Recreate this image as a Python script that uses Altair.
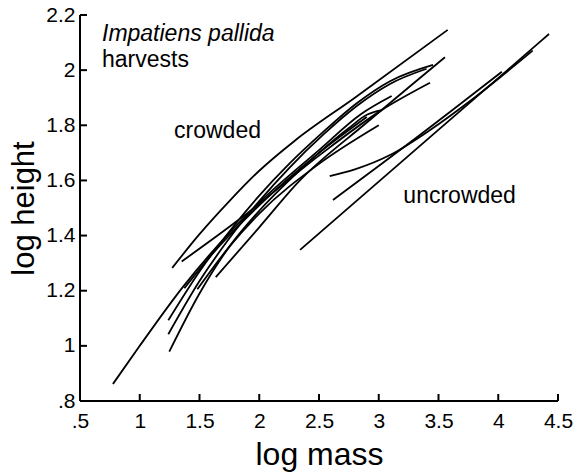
import altair as alt
import pandas as pd

# ---- data ----
x_ticks = [0.5, 1.0, 1.5, 2.0, 2.5, 3.0, 3.5, 4.0, 4.5]
y_ticks = [0.8, 1.0, 1.2, 1.4, 1.6, 1.8, 2.0, 2.2]

# crowded harvests
c1_x = [1.272, 1.5, 1.75, 2.0, 2.3, 2.8, 3.577]
c1_y = [1.283, 1.405, 1.525, 1.635, 1.745, 1.90, 2.146]
c2_x = [1.351, 1.867, 2.5, 3.024, 3.429]
c2_y = [1.306, 1.47, 1.69, 1.855, 1.954]
c3_x = [1.239, 1.5, 1.75, 2.0, 2.25, 2.533, 2.816, 3.094, 3.454]
c3_y = [1.093, 1.27, 1.415, 1.545, 1.66, 1.775, 1.88, 1.96, 2.019]
c4_x = [1.239, 1.5, 1.75, 2.0, 2.25, 2.533, 2.816, 3.094, 3.40]
c4_y = [1.042, 1.235, 1.39, 1.525, 1.645, 1.765, 1.87, 1.95, 2.005]
c5_x = [1.247, 1.5, 1.75, 2.0, 2.25, 2.5, 2.75, 2.9, 3.025]
c5_y = [0.979, 1.19, 1.36, 1.49, 1.6, 1.70, 1.79, 1.838, 1.855]
c6_x = [0.776, 1.0, 1.36, 1.75, 2.0, 2.5, 2.85, 3.108]
c6_y = [0.862, 1.0, 1.213, 1.41, 1.52, 1.71, 1.84, 1.906]
c7_x = [1.373, 1.6, 2.0, 2.5, 2.9]
c7_y = [1.209, 1.33, 1.51, 1.70, 1.83]
c8_x = [1.482, 1.75, 2.0, 2.5, 3.0]
c8_y = [1.205, 1.36, 1.48, 1.66, 1.80]
c9_x = [1.636, 2.0, 2.34, 2.9, 3.554]
c9_y = [1.249, 1.43, 1.60, 1.81, 2.047]

# uncrowded harvests
u1_x = [2.341, 3.4, 4.425]
u1_y = [1.348, 1.746, 2.131]
u2_x = [2.59, 2.8, 3.094, 3.43, 3.8, 4.288]
u2_y = [1.616, 1.64, 1.692, 1.783, 1.90, 2.071]
u3_x = [2.617, 3.3, 4.03]
u3_y = [1.529, 1.75, 1.994]

ann_text = ["harvests", "crowded", "uncrowded"]
ann_x = [0.684, 1.287, 3.206]
ann_y = [2.0125, 1.753, 1.517]
title_text = ["Impatiens pallida"]
title_x = [0.684]
title_y = [2.107]

# ---- build tables ----
curves = {
    "c1": (c1_x, c1_y), "c2": (c2_x, c2_y), "c3": (c3_x, c3_y),
    "c4": (c4_x, c4_y), "c5": (c5_x, c5_y), "c6": (c6_x, c6_y),
    "c7": (c7_x, c7_y), "c8": (c8_x, c8_y), "c9": (c9_x, c9_y),
    "u1": (u1_x, u1_y), "u2": (u2_x, u2_y), "u3": (u3_x, u3_y),
}
rows = []
for name, (xs, ys) in curves.items():
    for i, (xv, yv) in enumerate(zip(xs, ys)):
        rows.append({"curve": name, "order": i, "x": xv, "y": yv})
df = pd.DataFrame(rows)

W, H = 478, 386
FONT = "Liberation Sans"
TICK_PX = 7
X0, X1 = 0.5, 4.5
Y0, Y1 = 0.8, 2.2
tick_dx = TICK_PX * (X1 - X0) / W
tick_dy = TICK_PX * (Y1 - Y0) / H

# axis frame (left and bottom) and inward ticks as line segments
seg_rows = []
seg_rows += [{"seg": "yaxis", "o": 0, "x": X0, "y": Y0}, {"seg": "yaxis", "o": 1, "x": X0, "y": Y1}]
seg_rows += [{"seg": "xaxis", "o": 0, "x": X0, "y": Y0}, {"seg": "xaxis", "o": 1, "x": X1, "y": Y0}]
for v in y_ticks:
    seg_rows += [{"seg": f"yt{v}", "o": 0, "x": X0, "y": v}, {"seg": f"yt{v}", "o": 1, "x": X0 + tick_dx, "y": v}]
for v in x_ticks:
    seg_rows += [{"seg": f"xt{v}", "o": 0, "x": v, "y": Y0}, {"seg": f"xt{v}", "o": 1, "x": v, "y": Y0 + tick_dy}]
seg_df = pd.DataFrame(seg_rows)

xscale = alt.Scale(domain=[X0, X1], nice=False, zero=False)
yscale = alt.Scale(domain=[Y0, Y1], nice=False, zero=False)

lab_expr = "datum.value < 1 ? substring(format(datum.value, '~g'), 1) : format(datum.value, '~g')"

x_axis = alt.Axis(values=x_ticks, labelExpr=lab_expr, grid=False, ticks=False, tickSize=0,
                  domain=False, labelFont=FONT, labelFontSize=21,
                  labelColor="black", labelPadding=9, labelFlush=False,
                  title="log mass", titleFont=FONT, titleFontSize=32, titleFontWeight="normal",
                  titleColor="black", titleX=W / 2, titleY=63, titleBaseline="alphabetic",
                  titleAlign="center")
y_axis = alt.Axis(values=y_ticks, labelExpr=lab_expr, grid=False, ticks=False, tickSize=0,
                  domain=False, labelFont=FONT, labelFontSize=21,
                  labelColor="black", labelPadding=5, labelFlush=False,
                  title="log height", titleFont=FONT, titleFontSize=31, titleFontWeight="normal",
                  titleColor="black", titleX=-47, titleY=H / 2, titleAngle=-90,
                  titleBaseline="alphabetic", titleAlign="center")

lines = alt.Chart(df).mark_line(color="black", strokeWidth=1.8, interpolate="monotone").encode(
    x=alt.X("x:Q", scale=xscale, axis=x_axis),
    y=alt.Y("y:Q", scale=yscale, axis=y_axis),
    detail="curve:N",
    order="order:Q",
)

frame = alt.Chart(seg_df).mark_line(color="black", strokeWidth=2, clip=False).encode(
    x=alt.X("x:Q", scale=xscale),
    y=alt.Y("y:Q", scale=yscale),
    detail="seg:N",
    order="o:Q",
)

ann = alt.Chart(pd.DataFrame({"t": ann_text, "x": ann_x, "y": ann_y})).mark_text(
    align="left", baseline="alphabetic", font=FONT, fontSize=23, color="black"
).encode(x=alt.X("x:Q", scale=xscale), y=alt.Y("y:Q", scale=yscale), text="t:N")

ttl = alt.Chart(pd.DataFrame({"t": title_text, "x": title_x, "y": title_y})).mark_text(
    align="left", baseline="alphabetic", font=FONT, fontSize=23, fontStyle="italic", color="black"
).encode(x=alt.X("x:Q", scale=xscale), y=alt.Y("y:Q", scale=yscale), text="t:N")

chart = alt.layer(lines, frame, ann, ttl).properties(
    width=W, height=H,
    autosize=alt.AutoSizeParams(type="none"),
    padding={"left": 80, "top": 15, "right": 18, "bottom": 75},
    background="white",
    view=alt.ViewBackground(stroke="transparent"),
)

chart.save("out.html", embed_options={"renderer": "svg", "actions": False})
